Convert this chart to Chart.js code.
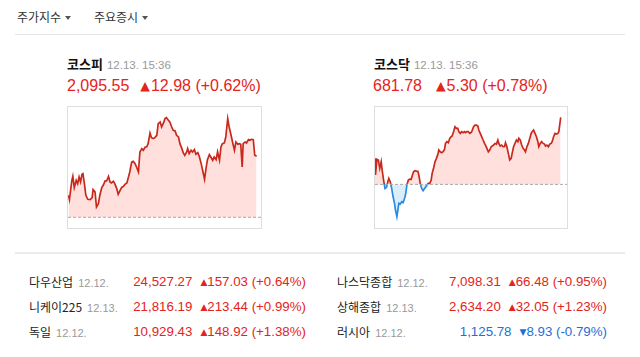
<!DOCTYPE html>
<html><head><meta charset="utf-8">
<script src="https://cdn.jsdelivr.net/npm/chart.js@4/dist/chart.umd.min.js"></script>
<style>
html,body{margin:0;padding:0;background:#fff;width:640px;height:357px;overflow:hidden;position:relative}
.a{position:absolute;white-space:nowrap}
.kr{font-family:"Noto Sans CJK KR","Noto Sans",sans-serif}
.num{font-family:"Liberation Sans",Arial,sans-serif}
.tab{font-size:12px;color:#333;line-height:16px}
.tri{display:inline-block;width:0;height:0;border-left:3px solid transparent;border-right:3px solid transparent;border-top:4px solid #555;vertical-align:middle;margin-left:4px;position:relative;top:-1px}
.ttl{font-size:13px;font-weight:bold;color:#111;line-height:16px}
.dt{font-family:"Liberation Sans",Arial,sans-serif;font-size:11.5px;color:#999;font-weight:normal;margin-left:4px}
.big{font-size:16px;line-height:20px;color:#e4231b}
.up{font-family:"DejaVu Sans",sans-serif;font-size:12.5px;position:relative;top:-1px;margin-right:1px}
.box{position:absolute;border:1px solid #dedede}
.row{font-size:12px;color:#222;line-height:16px}
.rdt{font-family:"Liberation Sans",Arial,sans-serif;font-size:11px;color:#999;margin-left:5px}
.rv{font-family:"Liberation Sans",Arial,sans-serif;font-size:13.3px;line-height:16px;text-align:right}
.sm{font-family:"DejaVu Sans",sans-serif;font-size:9px;position:relative;top:-1px;margin-left:8px}
.red{color:#e4231b}.blue{color:#1e6fd6}
</style></head><body>
<div class="a kr tab" style="left:17px;top:9px">주가지수<span class="tri"></span></div>
<div class="a kr tab" style="left:94px;top:9px">주요증시<span class="tri"></span></div>
<div class="a" style="left:15px;top:34px;width:610px;height:1px;background:#e6e6e6"></div>

<div class="a kr ttl" style="left:67px;top:56px">코스피<span class="dt">12.13. 15:36</span></div>
<div class="a num big" style="left:67px;top:76px">2,095.55<span style="margin-left:11px"><span class="up">▲</span>12.98 (+0.62%)</span></div>
<div class="box" style="left:67px;top:106px;width:193px;height:121px"><canvas id="c1" width="193" height="121"></canvas></div>

<div class="a kr ttl" style="left:374px;top:56px">코스닥<span class="dt">12.13. 15:36</span></div>
<div class="a num big" style="left:373px;top:76px">681.78<span style="margin-left:14px"><span class="up">▲</span>5.30 (+0.78%)</span></div>
<div class="box" style="left:374px;top:106px;width:192px;height:121px"><canvas id="c2" width="192" height="121"></canvas></div>

<div class="a" style="left:15px;top:252px;width:610px;height:2px;background:#ececec"></div>

<div id="rows"></div>

<script>
// ---- data ----
const kospiMinutes = [0,2,7,9,12,16,19,22,25,28,30,33,36,40,45,49,51,55,58,62,65,69,72,76,79,83,86,89,93,96,100,103,107,110,114,117,121,124,127,131,134,138,141,145,148,152,155,159,162,165,169,172,176,179,183,186,190,193,197,200,203,207,210,214,217,221,224,228,231,235,238,241,245,247,250,254,257,261,264,268,271,275,278,282,285,288,292,295,299,302,306,309,313,316,319,323,326,330,333,337,340,344,347,351,354,357,360,362,366,369,373,376,379,383,386,390];
const kospiValues = [2087.25,2086.33,2090.44,2091.29,2088.88,2090.44,2089.73,2091.15,2090.09,2091.72,2091.86,2089.73,2087.25,2086.40,2086.33,2086.75,2088.46,2087.96,2084.77,2085.48,2087.25,2088.88,2089.38,2090.30,2090.30,2091.29,2090.09,2089.87,2090.23,2089.73,2088.67,2087.46,2088.31,2088.88,2089.17,2089.59,2089.87,2091.01,2092.22,2094.34,2094.48,2093.99,2093.28,2092.22,2096.47,2097.18,2096.83,2097.53,2097.53,2098.24,2100.51,2099.52,2099.31,2099.52,2100.02,2102.50,2102.85,2101.79,2102.64,2103.56,2103.78,2103.21,2102.85,2101.79,2101.08,2100.94,2100.02,2099.66,2098.24,2097.18,2096.26,2095.76,2096.47,2097.18,2096.12,2096.83,2096.47,2096.97,2095.97,2096.33,2095.55,2093.99,2092.57,2090.66,2092.92,2094.84,2095.90,2095.41,2094.70,2095.41,2094.84,2096.47,2094.70,2097.53,2098.24,2098.39,2099.66,2103.56,2101.79,2100.02,2098.60,2096.83,2098.60,2098.10,2098.24,2098.10,2093.28,2098.24,2098.60,2098.39,2099.09,2098.95,2099.17,2099.09,2095.76,2095.55];
const kospiBase = 2082.57;

const kosdaqMinutes = [0,1,4,7,10,13,15,18,21,24,27,29,32,35,38,41,43,46,48,50,53,56,59,62,64,67,70,73,76,78,81,84,87,90,92,95,98,101,104,106,109,112,115,118,120,123,126,129,132,134,137,140,143,146,148,151,154,157,160,162,165,168,171,174,176,179,182,185,188,190,193,196,199,202,204,207,210,213,216,218,221,224,227,230,232,235,238,241,244,246,249,252,255,258,260,263,266,269,272,274,277,280,283,286,288,291,294,297,300,302,305,308,311,314,316,319,322,325,328,330,333,336,339,342,344,347,350,353,356,358,361,364,367,370,372,375,378,381,384,386,390];
const kosdaqValues = [678.54,677.22,678.46,678.41,677.75,678.27,677.61,676.82,676.16,676.24,676.69,676.95,676.69,676.16,675.50,674.98,674.45,673.92,674.45,674.98,674.92,675.11,675.03,675.37,675.64,676.43,676.82,676.90,676.88,677.14,677.48,677.56,677.53,677.51,677.22,676.56,676.16,675.98,676.16,676.24,676.43,676.56,676.56,676.82,677.35,677.75,678.27,678.54,678.85,679.20,679.06,678.99,679.06,679.25,679.72,679.86,679.78,680.12,680.25,680.30,680.65,681.04,680.91,680.91,680.65,680.51,680.65,680.57,680.65,680.57,680.65,680.65,680.51,680.59,680.73,681.04,681.17,681.17,681.09,680.78,680.51,680.25,679.99,679.72,679.59,679.33,679.06,679.20,679.46,679.51,679.59,679.72,679.67,679.99,679.72,679.51,679.59,679.46,679.46,679.78,679.46,678.93,678.41,678.54,678.93,679.46,679.72,679.99,679.86,680.12,679.99,679.59,679.33,679.20,679.06,679.46,679.72,680.12,680.51,680.65,680.78,680.51,680.25,679.86,679.46,679.72,679.86,679.72,679.67,679.51,679.59,679.46,679.67,679.72,679.86,680.25,680.51,680.46,680.51,680.65,681.78];
const kosdaqBase = 676.48;

const worldNames  = ["다우산업","니케이225","독일","나스닥종합","상해종합","러시아"];
const worldDates  = ["12.12.","12.13.","12.12.","12.12.","12.13.","12.12."];
const worldValues = ["24,527.27","21,816.19","10,929.43","7,098.31","2,634.20","1,125.78"];
const worldChange = ["157.03","213.44","148.92","66.48","32.05","8.93"];
const worldPct    = ["+0.64%","+0.99%","+1.38%","+0.95%","+1.23%","-0.79%"];

// ---- rows ----
const rowY = [274,299,324];
const rows = document.getElementById('rows');
worldNames.forEach((n,i)=>{
  const col = i<3?0:1, r = i%3;
  const down = worldPct[i].startsWith('-');
  const nm = document.createElement('div');
  nm.className='a kr row';
  nm.style.left=(col?337:29)+'px'; nm.style.top=rowY[r]+'px';
  nm.innerHTML = n + '<span class="rdt">'+worldDates[i]+'</span>';
  rows.appendChild(nm);
  const v = document.createElement('div');
  v.className='a rv '+(down?'blue':'red');
  v.style.right=(640-(col?607:306))+'px'; v.style.top=rowY[r]+'px';
  v.innerHTML = worldValues[i]+'<span class="sm">'+(down?'▼':'▲')+'</span>'+worldChange[i]+' ('+worldPct[i]+')';
  rows.appendChild(v);
});

// ---- charts ----
const RED='#c9291d', BLUE='#2a8be0', PINK='#ffe0dd', LBLUE='#dcedfa';
function makeChart(id, mins, vals, base, xmin, xmax, ymin, ymax){
  const pts = mins.map((t,i)=>({x:t,y:vals[i]}));
  new Chart(document.getElementById(id),{
    type:'line',
    data:{datasets:[
      {data:[{x:xmin,y:base},{x:xmax,y:base}],borderColor:'#a8a8a8',borderWidth:1,borderDash:[3,2],pointRadius:0,fill:false,order:0},
      {data:pts,borderWidth:1.7,pointRadius:0,tension:0,order:1,
       fill:{target:{value:base},above:PINK,below:LBLUE},
       borderColor:(ctx)=>{
         const ch=ctx.chart, ca=ch.chartArea;
         if(!ca) return RED;
         let f=(ch.scales.y.getPixelForValue(base)-ca.top)/(ca.bottom-ca.top);
         f=Math.max(0,Math.min(1,f));
         const g=ch.ctx.createLinearGradient(0,ca.top,0,ca.bottom);
         g.addColorStop(0,RED);g.addColorStop(f,RED);g.addColorStop(f,BLUE);g.addColorStop(1,BLUE);
         return g;
       }}
    ]},
    options:{responsive:false,animation:false,devicePixelRatio:1,
      layout:{padding:0},
      plugins:{legend:{display:false},tooltip:{enabled:false}},
      scales:{x:{type:'linear',min:xmin,max:xmax,display:false},y:{min:ymin,max:ymax,display:false}}
    }
  });
}
makeChart('c1',kospiMinutes,kospiValues,kospiBase,-1,399,2080.29,2106.04);
makeChart('c2',kosdaqMinutes,kosdaqValues,kosdaqBase,0,403.2,673.03,682.60);
</script>
</body></html>
